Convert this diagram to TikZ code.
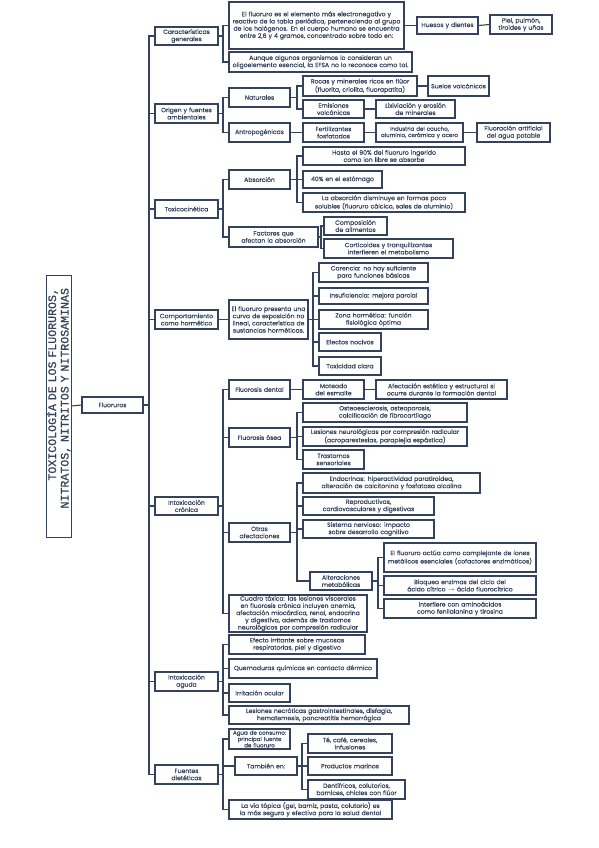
\documentclass[tikz,border=0pt]{standalone}
\usepackage{fontspec}
\setmainfont{Poppins}[FakeBold=0.35]
\newfontfamily\titlefont{Liberation Mono}[FakeBold=0.6]
\definecolor{navy}{RGB}{52,66,92}
\hyphenpenalty=10000 \exhyphenpenalty=10000 \lefthyphenmin=62 \righthyphenmin=62
\newcommand\nohyph{\hyphenpenalty10000\exhyphenpenalty10000\lefthyphenmin62\righthyphenmin62\relax}
\newcommand\smf{\fontsize{5.5}{6.3}\selectfont}
\newcommand\bx[6]{%
 \pgfmathsetmacro\bxw{#4-#2}\pgfmathsetmacro\bxh{#5-#3}\pgfmathsetmacro\bxt{#4-#2-2}%
 \pgfmathsetmacro\bxx{(#2+#4)/2}\pgfmathsetmacro\bxy{(#3+#5)/2}%
 \node[bx, minimum width=\bxw pt, minimum height=\bxh pt, text width=\bxt pt] (#1) at (\bxx,\bxy) {\nohyph #6\par};}
\newcommand\cn[3]{\draw[ln] (#1.east) -- (#3,0 |- #1.east) |- (#2.west);}
\newcommand\dc[2]{\draw[ln] (#1.east) -- (#2.west);}
\begin{document}
\begin{tikzpicture}[x=1pt,y=-1pt,
  bx/.style={draw=navy, line width=1.1pt, fill=white, text=navy, align=center, inner sep=0pt, font=\fontsize{6.1}{7.2}\selectfont},
  ln/.style={draw=navy, line width=1.1pt}]
\useasboundingbox[fill=white] (0,0) rectangle (599,848);
% title
\node[draw=navy, line width=1pt, fill=white, text=navy, rotate=90, minimum width=262pt, minimum height=25pt, inner sep=0pt, text width=236pt, align=right, font=\titlefont\fontsize{11.6}{12.5}\selectfont] (title) at (58.5,406) {TOXICOLOGÍA DE LOS FLUORUROS,\\NITRATOS, NITRITOS Y NITROSAMINAS};
\bx{root}{82}{397}{143}{413}{Fluoruros}
\draw[ln] (title.south) -- (root.west);
% level 1
\bx{cg}{155}{27}{218}{45}{Características generales}
\bx{or}{155}{104}{218}{123}{Origen y fuentes ambientales}
\bx{tk}{155}{200}{218}{218}{Toxicocinética}
\bx{ch}{155}{310}{218}{329}{Comportamiento como hormético}
\bx{ic}{155}{497}{218}{515}{Intoxicación\\crónica}
\bx{ia}{155}{672}{218}{691}{Intoxicación\\aguda}
\bx{fd}{155}{765}{218}{784}{Fuentes\\dietéticas}
\foreach \n in {cg,or,tk,ch,ic,ia,fd}{\cn{root}{\n}{149}}
% caracteristicas
\bx{c1}{229}{2}{404}{49}{El fluoruro es el elemento más electronegativo y reactivo de la tabla periódica, perteneciendo al grupo de los halógenos. En el cuerpo humano se encuentra entre 2,6 y 4 gramos, concentrado sobre todo en:}
\bx{c2}{229}{52}{412}{72}{Aunque algunos organismos lo consideran un oligoelemento esencial, la EFSA no lo reconoce como tal.}
\bx{hd}{417}{17}{478}{34}{Huesos y dientes}
\bx{pl}{490}{15}{552}{34}{Piel, pulmón, tiroides y uñas}
\cn{cg}{c1}{223}\cn{cg}{c2}{223}
\dc{c1}{hd}\dc{hd}{pl}
% origen
\bx{nat}{229}{88}{290}{107}{Naturales}
\bx{ant}{229}{123}{290}{142}{Antropogénicas}
\bx{rocas}{303}{76}{417}{96}{Rocas y minerales ricos en flúor (fluorita, criolita, fluorapatita)}
\bx{suelos}{428}{76}{489}{96}{Suelos volcánicos}
\bx{emis}{303}{100}{364}{118}{Emisiones volcánicas}
\bx{lix}{376}{100}{455}{118}{Lixiviación y erosión de minerales}
\bx{fert}{303}{123}{364}{142}{Fertilizantes fosfatados}
\bx{ind}{376}{123}{463}{142}{\smf Industria del caucho, aluminio, cerámica y acero}
\bx{fluo}{477}{123}{550}{142}{Fluoración artificial del agua potable}
\cn{or}{nat}{223}\cn{or}{ant}{223}
\cn{nat}{rocas}{297}\cn{nat}{emis}{297}
\dc{rocas}{suelos}\dc{emis}{lix}\dc{ant}{fert}\dc{fert}{ind}\dc{ind}{fluo}
% toxicocinetica
\bx{abs}{229}{170}{290}{189}{Absorción}
\bx{fac}{229}{227}{318}{247}{Factores que afectan la absorción}
\bx{hasta}{303}{147}{465}{165}{Hasta el 90\% del fluoruro ingerido como ion libre se absorbe}
\bx{p40}{303}{171}{382}{188}{40\% en el estómago}
\bx{labs}{303}{193}{465}{212}{La absorción disminuye en formas poco solubles (fluoruro cálcico, sales de aluminio)}
\bx{comp}{324}{217}{387}{235}{Composición de alimentos}
\bx{cort}{324}{239}{453}{258}{Corticoides y tranquilizantes interfieren el metabolismo}
\cn{tk}{abs}{223}\cn{tk}{fac}{223}
\cn{abs}{hasta}{297}\cn{abs}{p40}{297}\cn{abs}{labs}{297}
\cn{fac}{comp}{321}\cn{fac}{cort}{321}
% comportamiento
\bx{elf}{229}{300}{308}{339}{El fluoruro presenta una curva de exposición no lineal, característica de sustancias horméticas.}
\bx{car}{319}{263}{428}{282}{Carencia: no hay suficiente para funciones básicas}
\bx{ins}{319}{288}{428}{304}{Insuficiencia: mejora parcial}
\bx{zon}{319}{310}{428}{329}{Zona hormética: función fisiológica óptima}
\bx{efn}{319}{333}{381}{351}{Efectos nocivos}
\bx{tox}{319}{357}{381}{375}{Toxicidad clara}
\dc{ch}{elf}
\foreach \n in {car,ins,zon,efn,tox}{\cn{elf}{\n}{313}}
% intoxicacion cronica
\bx{fdn}{229}{380}{290}{399}{Fluorosis dental}
\bx{mot}{303}{380}{364}{399}{Moteado del esmalte}
\bx{afe}{376}{380}{507}{399}{Afectación estética y estructural si ocurre durante la formación dental}
\bx{fos}{229}{428}{290}{447}{Fluorosis ósea}
\bx{ost}{303}{403}{467}{422}{Osteoesclerosis, osteoporosis, calcificación de fibrocartílago}
\bx{les}{303}{427}{467}{446}{Lesiones neurológicas por compresión radicular (acroparestesias, paraplejia espástica)}
\bx{tra}{303}{450}{364}{469}{Trastornos sensoriales}
\bx{otr}{229}{523}{290}{542}{Otras\\afectaciones}
\bx{endo}{303}{473}{480}{493}{Endocrinas: hiperactividad paratiroidea, alteración de calcitonina y fosfatasa alcalina}
\bx{rep}{303}{497}{434}{515}{Reproductivas, cardiovasculares y digestivas}
\bx{sis}{303}{520}{434}{538}{Sistema nervioso: impacto sobre desarrollo cognitivo}
\bx{alt}{310}{572}{372}{590}{Alteraciones metabólicas}
\bx{act}{384}{543}{536}{572}{El fluoruro actúa como complejante de iones metálicos esenciales (cofactores enzimáticos)}
\bx{blo}{384}{576}{536}{595}{Bloquea enzimas del ciclo del ácido cítrico $\rightarrow$ ácido fluorocítrico}
\bx{intf}{384}{599}{536}{618}{Interfiere con aminoácidos como fenilalanina y tirosina}
\bx{cua}{229}{595}{367}{632}{Cuadro tóxico: las lesiones viscerales en fluorosis crónica incluyen anemia, afectación miocárdica, renal, endocrina y digestiva, además de trastornos neurológicos por compresión radicular}
\foreach \n in {fdn,fos,otr,cua}{\cn{ic}{\n}{223}}
\dc{fdn}{mot}\dc{mot}{afe}
\foreach \n in {ost,les,tra}{\cn{fos}{\n}{297}}
\foreach \n in {endo,rep,sis,alt}{\cn{otr}{\n}{297}}
\foreach \n in {act,blo,intf}{\cn{alt}{\n}{378}}
% intoxicacion aguda
\bx{efi}{229}{635}{365}{654}{Efecto irritante sobre mucosas respiratorias, piel y digestivo}
\bx{que}{229}{659}{377}{678}{Quemaduras químicas en contacto dérmico}
\bx{irr}{229}{684}{290}{702}{Irritación ocular}
\bx{lnc}{229}{706}{409}{724}{Lesiones necróticas gastrointestinales, disfagia, hematemesis, pancreatitis hemorrágica}
\foreach \n in {efi,que,irr,lnc}{\cn{ia}{\n}{223}}
% fuentes
\bx{agu}{229}{729}{290}{749}{\smf Agua de consumo: principal fuente de fluoruro}
\bx{tam}{235}{757}{297}{775}{También en:}
\bx{te}{308}{734}{392}{753}{Té, café, cereales, infusiones}
\bx{pm}{308}{757}{392}{775}{Productos marinos}
\bx{den}{308}{780}{405}{799}{Dentífricos, colutorios, barnices, chicles con flúor}
\bx{via}{229}{800}{392}{819}{La vía tópica (gel, barniz, pasta, colutorio) es la más segura y efectiva para la salud dental}
\foreach \n in {agu,tam,via}{\cn{fd}{\n}{223}}
\foreach \n in {te,pm,den}{\cn{tam}{\n}{302}}
\end{tikzpicture}
\end{document}
